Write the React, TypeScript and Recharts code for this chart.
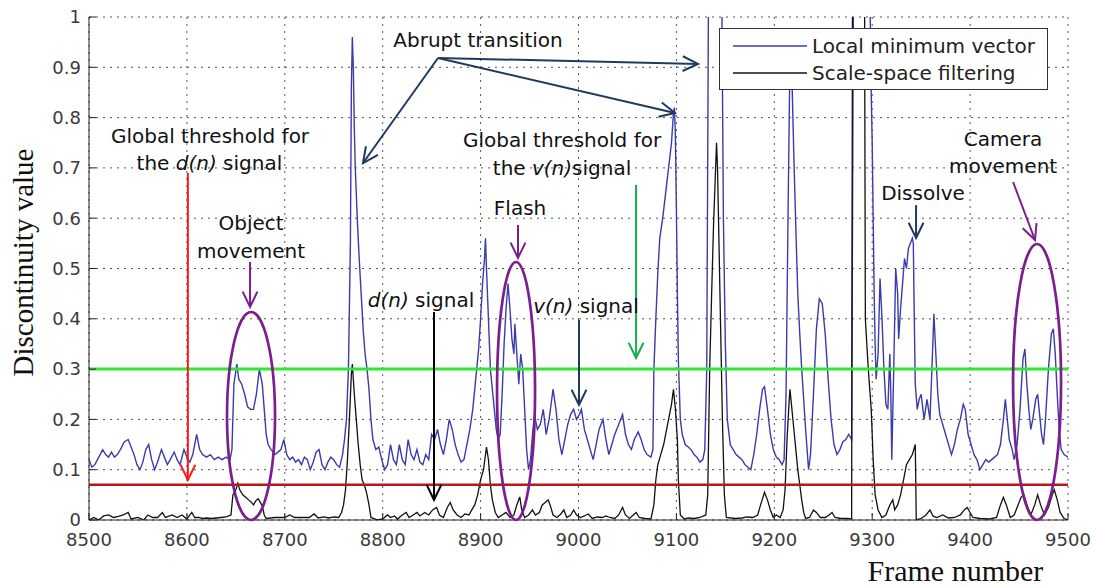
import React from 'react';
import { LineChart, Line, XAxis, YAxis, CartesianGrid, ReferenceLine, ReferenceDot, Legend } from 'recharts';

const frameTicks = [8500, 8600, 8700, 8800, 8900, 9000, 9100, 9200, 9300, 9400, 9500];
const valueTicks = [0, 0.1, 0.2, 0.3, 0.4, 0.5, 0.6, 0.7, 0.8, 0.9, 1];

const vThreshold = 0.3;
const dThreshold = 0.07;

// Local minimum vector v(n): [frame, value]
const localMinimumVector: [number, number][] = [
  [8500, .12], [8503, .105], [8506, .11], [8510, .125], [8514, .14], [8517, .13], [8520, .125], [8523, .135],
  [8526, .125], [8529, .13], [8532, .14], [8536, .155], [8540, .16], [8543, .145], [8546, .13], [8549, .11],
  [8552, .10], [8555, .115], [8558, .14], [8561, .15], [8564, .12], [8567, .10], [8570, .115], [8574, .14],
  [8577, .125], [8580, .11], [8583, .12], [8587, .135], [8590, .12], [8593, .11], [8597, .14], [8600, .125],
  [8603, .115], [8606, .13], [8610, .17], [8613, .14], [8616, .13], [8620, .125], [8624, .13], [8628, .12],
  [8632, .125], [8636, .12], [8640, .125], [8644, .12], [8646, .14], [8648, .27], [8651, .31], [8653, .28],
  [8656, .27], [8659, .25], [8662, .225], [8665, .22], [8668, .22], [8671, .25], [8674, .30], [8677, .27],
  [8679, .22], [8681, .17], [8683, .15], [8686, .14], [8690, .13], [8693, .135], [8696, .14], [8699, .16],
  [8702, .13], [8705, .12], [8708, .125], [8711, .115], [8714, .12], [8717, .11], [8720, .125], [8723, .12],
  [8726, .10], [8729, .115], [8732, .135], [8735, .14], [8738, .11], [8741, .10], [8744, .115], [8747, .125],
  [8750, .12], [8753, .11], [8756, .105], [8759, .13], [8761, .16], [8763, .20], [8765, .30], [8767, .55],
  [8768, .86], [8769, .96], [8770, .90], [8771, .78], [8772, .70], [8774, .60], [8776, .52], [8778, .45],
  [8780, .38], [8782, .33], [8784, .30], [8786, .26], [8788, .20], [8790, .16], [8793, .14], [8796, .145],
  [8799, .12], [8802, .10], [8805, .11], [8808, .15], [8811, .12], [8814, .11], [8817, .15], [8820, .12],
  [8823, .11], [8826, .16], [8829, .13], [8832, .12], [8835, .14], [8838, .115], [8841, .11], [8844, .13],
  [8847, .12], [8850, .17], [8853, .16], [8856, .18], [8859, .15], [8862, .13], [8865, .16], [8868, .20],
  [8871, .18], [8874, .15], [8877, .13], [8880, .115], [8883, .12], [8886, .15], [8889, .18], [8892, .22],
  [8895, .28], [8898, .34], [8900, .40], [8902, .47], [8904, .52], [8905, .56], [8906, .50], [8908, .40],
  [8910, .30], [8912, .26], [8914, .22], [8916, .18], [8918, .16], [8920, .17], [8922, .25], [8924, .35],
  [8926, .42], [8928, .47], [8930, .42], [8932, .36], [8934, .33], [8935, .39], [8937, .33], [8939, .27],
  [8941, .33], [8943, .30], [8945, .22], [8947, .14], [8949, .10], [8951, .12], [8953, .17], [8955, .21],
  [8958, .18], [8961, .19], [8964, .22], [8967, .17], [8970, .20], [8974, .26], [8977, .22], [8980, .16],
  [8983, .13], [8986, .16], [8989, .19], [8992, .21], [8995, .22], [8998, .20], [9001, .21], [9003, .22],
  [9006, .18], [9009, .16], [9012, .14], [9015, .12], [9018, .15], [9021, .18], [9025, .20], [9028, .16],
  [9031, .13], [9034, .15], [9037, .17], [9041, .19], [9045, .21], [9048, .17], [9051, .15], [9054, .14],
  [9057, .16], [9061, .175], [9064, .16], [9067, .14], [9070, .13], [9074, .125], [9076, .14], [9077, .30],
  [9079, .40], [9081, .49], [9083, .56], [9086, .60], [9089, .65], [9092, .70], [9095, .75], [9097, .81],
  [9098, .82], [9099, .76], [9100, .62], [9101, .45], [9102, .32], [9104, .20], [9106, .17], [9109, .15],
  [9112, .145], [9115, .14], [9118, .13], [9121, .125], [9124, .115], [9127, .12], [9129, .14], [9131, .30],
  [9133, 1.15], [9146, 1.15], [9148, .60], [9150, .35], [9152, .20], [9155, .15], [9158, .14], [9161, .13],
  [9164, .125], [9167, .12], [9170, .11], [9173, .105], [9176, .10], [9179, .13], [9182, .17], [9185, .22],
  [9188, .26], [9190, .265], [9193, .22], [9196, .17], [9199, .14], [9202, .125], [9205, .12], [9208, .11],
  [9210, .12], [9212, .25], [9214, .60], [9216, .92], [9218, .88], [9220, .72], [9222, .58], [9224, .45],
  [9226, .37], [9228, .30], [9230, .24], [9232, .18], [9235, .10], [9237, .13], [9240, .25], [9243, .38],
  [9246, .44], [9249, .43], [9252, .37], [9255, .28], [9258, .20], [9261, .15], [9264, .13], [9267, .14],
  [9270, .155], [9273, .16], [9276, .17], [9279, .16], [9281, 1.15], [9297, 1.15], [9299, .85], [9300, .75],
  [9301, .60], [9302, .45], [9303, .35], [9304, .28], [9306, .33], [9308, .48], [9310, .40], [9312, .30],
  [9314, .23], [9316, .22], [9318, .33], [9319, .25], [9320, .12], [9322, .30], [9324, .50], [9326, .45],
  [9327, .36], [9329, .42], [9331, .47], [9333, .52], [9335, .50], [9337, .54], [9339, .55], [9341, .56],
  [9342, .55], [9343, .40], [9344, .27], [9346, .22], [9348, .24], [9350, .25], [9353, .20], [9356, .24],
  [9359, .20], [9361, .30], [9363, .41], [9365, .33], [9367, .25], [9369, .21], [9372, .19], [9375, .17],
  [9378, .15], [9381, .13], [9384, .15], [9387, .18], [9390, .20], [9393, .23], [9395, .22], [9398, .17],
  [9401, .15], [9404, .13], [9407, .12], [9410, .10], [9413, .11], [9416, .12], [9419, .115], [9422, .12],
  [9425, .125], [9428, .13], [9431, .15], [9434, .20], [9436, .24], [9438, .20], [9440, .16], [9443, .14],
  [9445, .12], [9448, .15], [9451, .22], [9454, .32], [9456, .34], [9458, .27], [9460, .22], [9462, .18],
  [9464, .20], [9467, .24], [9469, .25], [9471, .21], [9473, .17], [9475, .15], [9477, .20], [9480, .30],
  [9483, .37], [9485, .38], [9487, .33], [9489, .25], [9491, .18], [9493, .14], [9496, .13], [9500, .125],
];

// Scale-space filtering d(n): [frame, value]
const scaleSpaceFiltering: [number, number][] = [
  [8500, 0], [8505, .005], [8510, 0], [8515, .008], [8520, .01], [8525, .005], [8530, .007], [8535, .01],
  [8540, .015], [8543, .002], [8550, .005], [8556, 0], [8560, .01], [8565, .005], [8570, .005], [8575, .015],
  [8578, .005], [8585, .01], [8590, .005], [8595, .01], [8600, .002], [8605, .015], [8608, .005], [8612, .005],
  [8616, .003], [8620, .004], [8625, .003], [8630, .004], [8635, .005], [8640, .006], [8645, .01], [8647, .05],
  [8650, .06], [8652, .073], [8654, .06], [8657, .05], [8660, .045], [8663, .04], [8666, .035], [8668, .03],
  [8671, .04], [8673, .042], [8675, .035], [8677, .028], [8679, .01], [8681, .003], [8690, .005], [8700, .005],
  [8705, .01], [8710, .005], [8720, .005], [8725, .005], [8730, .012], [8734, .004], [8740, .006], [8745, .004],
  [8750, .006], [8755, .005], [8758, .015], [8760, .03], [8762, .06], [8764, .12], [8766, .20], [8768, .29],
  [8769, .31], [8771, .25], [8773, .20], [8775, .15], [8777, .11], [8779, .08], [8782, .065], [8784, .05],
  [8786, .03], [8788, .005], [8795, 0], [8800, .002], [8805, .01], [8808, .005], [8812, .008], [8815, .002],
  [8820, .01], [8824, .015], [8827, .005], [8831, .01], [8835, .015], [8838, .008], [8843, .015], [8847, .01],
  [8851, .02], [8855, .025], [8858, .01], [8862, .005], [8866, .025], [8869, .035], [8872, .02], [8876, .01],
  [8880, .005], [8884, .012], [8888, .01], [8891, .02], [8894, .03], [8897, .05], [8900, .08], [8903, .10],
  [8906, .145], [8908, .12], [8910, .07], [8912, .04], [8915, .015], [8918, .005], [8922, .01], [8926, .015],
  [8930, .005], [8934, .01], [8937, .03], [8940, .046], [8942, .02], [8945, .005], [8949, .01], [8953, .02],
  [8956, .01], [8960, .015], [8963, .03], [8966, .035], [8969, .04], [8971, .03], [8974, .01], [8978, .005],
  [8982, .012], [8985, .02], [8988, .005], [8992, .01], [8995, .02], [8998, .01], [9002, .005], [9006, .008],
  [9010, .012], [9014, .003], [9019, .006], [9024, .005], [9028, .008], [9032, .005], [9037, .003], [9041, .01],
  [9045, .025], [9048, .01], [9052, .003], [9056, .01], [9059, .015], [9062, .005], [9068, .003], [9074, .002],
  [9077, .03], [9079, .08], [9081, .11], [9084, .13], [9087, .15], [9090, .18], [9093, .21], [9095, .23],
  [9097, .26], [9099, .22], [9101, .16], [9102, .08], [9104, .01], [9108, .002], [9112, .004], [9118, .003],
  [9124, .005], [9130, .01], [9132, .05], [9134, .30], [9136, .45], [9138, .59], [9141, .75], [9142, .70],
  [9143, .60], [9145, .40], [9147, .20], [9149, .05], [9151, .005], [9160, .003], [9167, .004], [9172, .006],
  [9178, .005], [9183, .01], [9186, .03], [9190, .055], [9193, .04], [9196, .02], [9199, .005], [9202, .01],
  [9206, .005], [9209, .02], [9211, .06], [9213, .16], [9215, .23], [9216, .26], [9218, .22], [9220, .18],
  [9222, .14], [9224, .10], [9226, .07], [9228, .04], [9230, .015], [9232, .003], [9236, .005], [9240, .02],
  [9243, .015], [9247, .005], [9252, .005], [9256, .01], [9259, .015], [9262, .005], [9268, .003], [9275, .003],
  [9279, .002], [9280, 1.2], [9292, 1.2], [9293, .40], [9296, .30], [9299, .22], [9301, .12], [9303, .05],
  [9306, .02], [9310, .005], [9314, .01], [9318, .03], [9321, .04], [9323, .02], [9326, .03], [9329, .05],
  [9332, .08], [9335, .11], [9338, .12], [9341, .13], [9344, .15], [9345, 0], [9350, .003], [9355, .01],
  [9359, .02], [9362, .008], [9366, .005], [9372, .01], [9378, .004], [9384, .005], [9390, .01], [9394, .02],
  [9397, .025], [9400, .015], [9403, .005], [9410, .003], [9420, .002], [9427, .005], [9431, .03], [9434, .045],
  [9437, .03], [9441, .005], [9445, .01], [9449, .03], [9452, .045], [9455, .05], [9458, .03], [9462, .01],
  [9466, .03], [9469, .05], [9472, .03], [9476, .01], [9480, .025], [9484, .05], [9486, .06], [9489, .04],
  [9492, .015], [9496, .003], [9500, 0],
];

const seriesNames = ['Local minimum vector', 'Scale-space filtering'];
const seriesColors = ['#3b3bab', '#111111'];

// annotation texts anchored at (frame, value), baseline-centred
type Part = { t: string; i?: boolean };
const annotationTexts: { f: number; v: number; parts: Part[] }[] = [
  { f: 8623.6, v: 0.7495, parts: [{ t: 'Global threshold for' }] },
  { f: 8623.0, v: 0.696, parts: [{ t: 'the ' }, { t: 'd(n)', i: true }, { t: ' signal' }] },
  { f: 8665.5, v: 0.5765, parts: [{ t: 'Object' }] },
  { f: 8665.5, v: 0.521, parts: [{ t: 'movement' }] },
  { f: 8897.4, v: 0.940, parts: [{ t: 'Abrupt transition' }] },
  { f: 8983.2, v: 0.7416, parts: [{ t: 'Global threshold for' }] },
  { f: 8983.2, v: 0.686, parts: [{ t: 'the ' }, { t: 'v(n)', i: true }, { t: 'signal' }] },
  { f: 8940.3, v: 0.6064, parts: [{ t: 'Flash' }] },
  { f: 8839.1, v: 0.4235, parts: [{ t: 'd(n)', i: true }, { t: ' signal' }] },
  { f: 9007.7, v: 0.4115, parts: [{ t: 'v(n)', i: true }, { t: ' signal' }] },
  { f: 9351.9, v: 0.636, parts: [{ t: 'Dissolve' }] },
  { f: 9433.7, v: 0.7435, parts: [{ t: 'Camera' }] },
  { f: 9433.7, v: 0.690, parts: [{ t: 'movement' }] },
];

const annotationArrows: { from: [number, number]; to: [number, number]; color: string }[] = [
  { from: [8601, 0.690], to: [8601, 0.0795], color: '#ff1a1a' },
  { from: [8664.5, 0.513], to: [8664.5, 0.4235], color: '#7b1f8c' },
  { from: [8856.5, 0.9185], to: [8779.9, 0.7097], color: '#1f3a5f' },
  { from: [8856.5, 0.9185], to: [9122.1, 0.9066], color: '#1f3a5f' },
  { from: [8856.5, 0.9185], to: [9098.6, 0.809], color: '#1f3a5f' },
  { from: [9058.8, 0.666], to: [9058.8, 0.322], color: '#12b04a' },
  { from: [8938.2, 0.5865], to: [8938.2, 0.521], color: '#7b1f8c' },
  { from: [8852.4, 0.4135], to: [8852.4, 0.0398], color: '#000000' },
  { from: [9000.5, 0.3976], to: [9000.5, 0.2286], color: '#1f3a5f' },
  { from: [9344.8, 0.626], to: [9344.8, 0.5606], color: '#1f3a5f' },
  { from: [9443.9, 0.672], to: [9466.3, 0.5567], color: '#7b1f8c' },
];

const annotationEllipses: { f: number; v: number; rx: number; ry: number }[] = [
  { f: 8665.5, v: 0.2068, rx: 24, ry: 104 },
  { f: 8936.2, v: 0.2565, rx: 19, ry: 129 },
  { f: 9468.4, v: 0.2744, rx: 24, ry: 138 },
];

const toRows = (pairs: [number, number][]) => pairs.map(([f, v]) => ({ f, v }));

const arrowShape = (color: string) => (p: any) => {
  const { x1, y1, x2, y2 } = p;
  const a = Math.atan2(y2 - y1, x2 - x1);
  const L = 17;
  const s = 0.45;
  const bx1 = x2 - L * Math.cos(a - s);
  const by1 = y2 - L * Math.sin(a - s);
  const bx2 = x2 - L * Math.cos(a + s);
  const by2 = y2 - L * Math.sin(a + s);
  return (
    <g>
      <line x1={x1} y1={y1} x2={x2} y2={y2} stroke={color} strokeWidth={2} />
      <polyline points={`${bx1},${by1} ${x2},${y2} ${bx2},${by2}`} fill="none" stroke={color} strokeWidth={2} />
    </g>
  );
};

const FONT = '"DejaVu Sans", Arial, sans-serif';

const textShape = (parts: Part[]) => (p: any) => (
  <text x={p.cx} y={p.cy} textAnchor="middle" fontFamily={FONT} fontSize={20} fill="#111">
    {parts.map((pt, i) => (
      <tspan key={i} fontStyle={pt.i ? 'italic' : 'normal'}>{pt.t}</tspan>
    ))}
  </text>
);

const ellipseShape = (rx: number, ry: number) => (p: any) => (
  <ellipse cx={p.cx} cy={p.cy} rx={rx} ry={ry} fill="none" stroke="#7b1f8c" strokeWidth={2.7} />
);

const LegendBox = () => (
  <div style={{ width: 329, height: 62, boxSizing: 'border-box', border: '1.5px solid #333', background: '#fff' }}>
    <svg width={326} height={59}>
      {seriesNames.map((n, i) => (
        <g key={n}>
          <line x1={13} x2={87} y1={17 + i * 27} y2={17 + i * 27} stroke={seriesColors[i]} strokeWidth={1.5} />
          <text x={92} y={17 + i * 27} dy="0.36em" fontFamily={FONT} fontSize={20} fill="#222">{n}</text>
        </g>
      ))}
    </svg>
  </div>
);

const YLabel = (props: any) => {
  const vb = props.viewBox;
  const x = vb.x + 14;
  const y = vb.y + vb.height / 2 - 6;
  return (
    <text x={x} y={y} transform={`rotate(-90 ${x} ${y})`} textAnchor="middle" fontFamily='"Liberation Serif", "Times New Roman", serif' fontSize={29} fill="#111">
      Discontinuity value
    </text>
  );
};

const XLabel = (props: any) => {
  const vb = props.viewBox;
  return (
    <text x={vb.x + vb.width * 0.885} y={vb.y + 61} textAnchor="middle" fontFamily='"Liberation Serif", "Times New Roman", serif' fontSize={30} fill="#111">
      Frame number
    </text>
  );
};

export default function App() {
  const vData = toRows(localMinimumVector);
  const dData = toRows(scaleSpaceFiltering);
  const tickStyle = { fontSize: 18, fill: '#3a3a3a', fontFamily: FONT };
  return (
    <div style={{ position: 'absolute', left: 0, top: 0, width: 1096, height: 587, background: '#fff' }}>
      <LineChart width={1096} height={587} margin={{ top: 17, right: 28, bottom: 32, left: 19 }}>
        <CartesianGrid stroke="#555" strokeDasharray="2 5" strokeWidth={1} />
        <XAxis dataKey="f" type="number" domain={[8500, 9500]} ticks={frameTicks} interval={0} allowDataOverflow
          height={35} tickSize={-7} tickMargin={20} tick={tickStyle} stroke="#222" label={XLabel} />
        <XAxis xAxisId="top" orientation="top" dataKey="f" type="number" domain={[8500, 9500]} ticks={frameTicks} interval={0}
          height={0} tickSize={-7} tick={false} stroke="#222" />
        <YAxis type="number" domain={[0, 1]} ticks={valueTicks} interval={0} allowDataOverflow
          width={70} tickSize={-7} tickMargin={15} tick={tickStyle} stroke="#222" label={YLabel} />
        <YAxis yAxisId="right" orientation="right" type="number" domain={[0, 1]} ticks={valueTicks} interval={0}
          width={0} tickSize={-7} tick={false} stroke="#222" />
        <Line data={vData} dataKey="v" name={seriesNames[0]} type="linear" stroke={seriesColors[0]} strokeWidth={1.4} dot={false} isAnimationActive={false} />
        <Line data={dData} dataKey="v" name={seriesNames[1]} type="linear" stroke={seriesColors[1]} strokeWidth={1.3} dot={false} isAnimationActive={false} />
        <ReferenceLine y={vThreshold} stroke="#2eea2e" strokeWidth={3} />
        <ReferenceLine y={dThreshold} stroke="#b51a1a" strokeWidth={2.5} />
        {annotationEllipses.map((e, i) => (
          <ReferenceDot key={'e' + i} x={e.f} y={e.v} r={0} shape={ellipseShape(e.rx, e.ry)} />
        ))}
        {annotationArrows.map((a, i) => (
          <ReferenceLine key={'a' + i} segment={[{ x: a.from[0], y: a.from[1] }, { x: a.to[0], y: a.to[1] }]} shape={arrowShape(a.color)} />
        ))}
        {annotationTexts.map((t, i) => (
          <ReferenceDot key={'t' + i} x={t.f} y={t.v} r={0} shape={textShape(t.parts)} />
        ))}
        <Legend layout="horizontal" verticalAlign="middle" align="center" content={LegendBox}
          wrapperStyle={{ position: 'absolute', left: 719, top: 28, width: 329, height: 62 }} />
      </LineChart>
    </div>
  );
}
